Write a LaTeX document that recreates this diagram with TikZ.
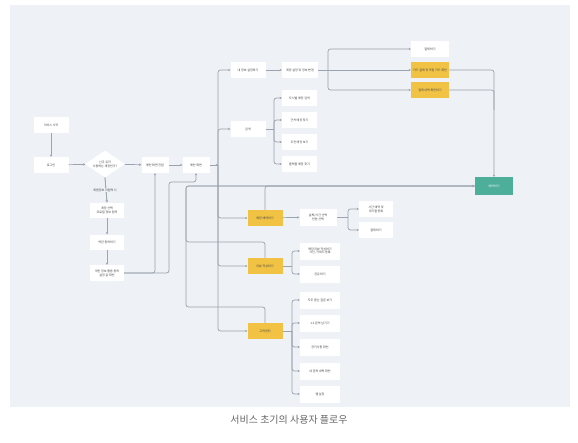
\documentclass[tikz,border=0pt]{standalone}
\usepackage{fontspec}
\newfontfamily\kr{Noto Sans CJK KR}
\usetikzlibrary{shapes.geometric,arrows.meta}
\definecolor{bgc}{HTML}{EEF1F5}
\definecolor{lnc}{HTML}{9AA3AE}
\definecolor{yelc}{HTML}{F1C244}
\definecolor{tealc}{HTML}{4DAE9A}
\begin{document}
\begin{tikzpicture}[x=1pt,y=-1pt,
  box/.style={fill=white, minimum width=35pt, minimum height=16pt, inner sep=0.5pt, align=center,
    font=\kr\fontsize{3}{3.8}\selectfont, text=black!75},
  ybox/.style={box, fill=yelc},
  arr/.style={draw=lnc, line width=0.7pt, -{Stealth[length=2.2pt,width=2.4pt]}, rounded corners=2.5pt},
  lnk/.style={draw=lnc, line width=0.7pt, rounded corners=2.5pt}]
\useasboundingbox (0,0) rectangle (578,442);
\fill[bgc] (10,5) rectangle (570,407);
% left column
\node[box] (start) at (51,125) {서비스 시작};
\node[box] (login) at (51,165) {로그인};
\node[diamond, fill=white, minimum width=40pt, minimum height=27pt, inner sep=0pt, aspect=1.5, align=center,
  font=\kr\fontsize{3}{3.8}\selectfont, text=black!75] (dia) at (105,164) {신규 유저\\사용하는 계정인가?};
\node[box, minimum width=27pt] (entry) at (155,165) {메인 화면 진입};
\node[box, minimum width=27pt] (main) at (196,165) {메인 화면};
\node[box, minimum width=34pt, minimum height=15pt] (acc) at (107,210) {계정 선택\\프로필 정보 입력};
\node[box, minimum width=34pt, minimum height=15pt] (terms) at (107,242) {약관 동의하기};
\node[box, minimum width=34pt, minimum height=16pt] (priv) at (107,273) {개인 정보 활용 동의\\설정 값 확인};
% top branch
\node[box] (my) at (248,70) {내 정보 설정하기};
\node[box, minimum width=36pt] (myset) at (300,70) {계정 설정 및 정보 변경};
\node[box, minimum width=38pt] (pay) at (430,49) {결제하기};
\node[ybox, minimum width=38pt] (y1) at (430,70) {카드 결제 및 적립 카드 확인};
\node[ybox, minimum width=38pt] (y2) at (430,90) {결제 내역 확인하기};
% search
\node[box] (srch) at (248,129) {검색};
\node[box] (s1) at (299.5,98) {도시별 매장 검색};
\node[box] (s2) at (299.5,120) {근처 매장 찾기};
\node[box] (s3) at (299.5,142) {추천 매장 보기};
\node[box] (s4) at (299.5,164) {플랫폼 매장 찾기};
% teal
\node[box, fill=tealc, text=white, minimum width=38pt, minimum height=18pt] (tl) at (494,186) {예약하기};
% reservation
\node[ybox] (rsv) at (265,218) {매장 예약하기};
\node[box, minimum width=37pt, minimum height=17pt] (date) at (318,217) {날짜/시간 선택\\인원 선택};
\node[box, minimum width=34pt] (r1) at (376,209) {시간 예약 및\\대기열 등록};
\node[box, minimum width=34pt] (r2) at (376,230) {결제하기};
% review
\node[ybox] (rev) at (265,266) {리뷰 작성하기};
\node[box, minimum width=40pt, minimum height=17pt] (v1) at (320,251) {매장 리뷰 작성하기\\사진, 키워드 등록};
\node[box, minimum width=40pt, minimum height=17pt] (v2) at (320,274) {공유하기};
% customer center
\node[ybox] (cs) at (265,331) {고객센터};
\node[box, minimum width=40pt, minimum height=17pt] (c1) at (320,300) {자주 묻는 질문 보기};
\node[box, minimum width=40pt, minimum height=17pt] (c2) at (320,323) {1:1 문의 남기기};
\node[box, minimum width=40pt, minimum height=17pt] (c3) at (320,347) {공지사항 확인};
\node[box, minimum width=40pt, minimum height=17pt] (c4) at (320,371) {내 문의 내역 확인};
\node[box, minimum width=40pt, minimum height=17pt] (c5) at (320,394) {앱 설정};
% caption
\node[font=\kr\fontsize{10}{12}\selectfont, text=black!60] (cap) at (289,420) {서비스 초기의 사용자 플로우};
% left connectors
\draw[arr] (start) -- (login);
\draw[arr] (login) -- (dia);
\draw[arr] (dia) -- (entry);
\draw[lnk] (dia.south) -- (acc.north);
\draw[arr] (dia.south) -- (acc.north);
\node[fill=bgc, inner sep=0.6pt, font=\kr\fontsize{3}{3.8}\selectfont, text=black!75] (lab) at (105,190) {회원정보 미입력 시};
\draw[arr] (acc) -- (terms);
\draw[arr] (terms) -- (priv);
\draw[arr] (priv.east) -| (entry.south);
\draw[arr] (priv.east) -| (169,182) -| (main.south);
\draw[arr] (entry) -- (main);
% trunk
\coordinate (tr) at (218,165);
\draw[arr] (main.east) -- (tr);
\foreach \n in {my,srch,rsv,rev,cs} \draw[arr] (tr) |- (\n.west);
% top branch
\draw[arr] (my) -- (myset);
\coordinate (pb) at (328,70);
\draw[lnk] (myset.east) -- (pb);
\draw[arr] (pb) |- (pay.west);
\draw[arr] (pb) -- (y1.west);
\draw[arr] (pb) |- (y2.west);
\draw[arr] (y1.east) -| (tl.north);
\draw[lnk] (y2.east) -| (494,110);
% search bracket
\coordinate (sb) at (274,129);
\draw[lnk] (srch.east) -- (sb);
\foreach \n in {s1,s2,s3,s4} \draw[arr] (sb) |- (\n.west);
% reservation
\draw[arr] (rsv) -- (date);
\coordinate (db) at (348,217);
\draw[lnk] (date.east) -- (db);
\draw[arr] (db) |- (r1.west);
\draw[arr] (db) |- (r2.west);
% review
\coordinate (vb) at (292,266);
\draw[lnk] (rev.east) -- (vb);
\draw[arr] (vb) |- (v1.west);
\draw[arr] (vb) |- (v2.west);
% customer center
\coordinate (cb) at (292,331);
\draw[lnk] (cs.east) -- (cb);
\foreach \n in {c1,c2,c3,c4,c5} \draw[arr] (cb) |- (\n.west);
% to teal
\draw[arr] (rsv.north) |- (tl.west);
\draw[arr] (rev.north) |- (186,242) |- (tl.west);
\draw[arr] (cs.north) |- (186,307) |- (tl.west);
\end{tikzpicture}
\end{document}
